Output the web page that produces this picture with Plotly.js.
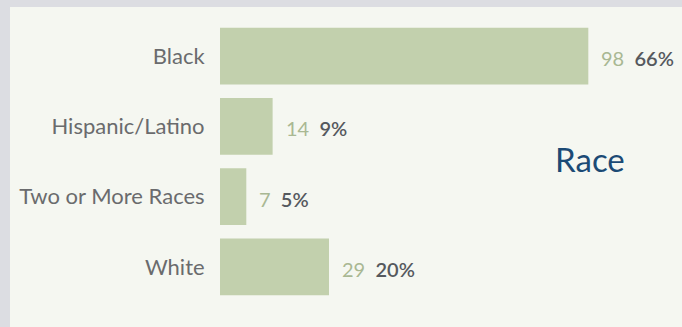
<!DOCTYPE html>
<html><head><meta charset="utf-8">
<script src="https://cdn.plot.ly/plotly-3.0.1.min.js"></script>
<style>
html,body{margin:0;padding:0;background:#dcdde2;width:682px;height:327px;overflow:hidden}
#chart{position:absolute;left:10px;top:7px;width:672px;height:320px}
</style></head><body>
<div id="chart"></div>
<script>
const categories = ["Black", "Hispanic/Latino", "Two or More Races", "White"];
const counts = [98, 14, 7, 29];
const percents = ["66%", "9%", "5%", "20%"];
const chartTitle = "Race";

const countColor = "#a9b893";
const pctColor = "#55595e";

const annotations = categories.map((c, i) => ({
  x: counts[i], y: c, xref: "x", yref: "y",
  xanchor: "left", yanchor: "middle", xshift: 11, yshift: -2, showarrow: false,
  text: "<span style='color:" + countColor + "'>" + counts[i] + "</span>&nbsp;&nbsp;<span style='color:" + pctColor + ";font-weight:600'>" + percents[i] + "</span>",
  font: {family: "Lato", size: 20, color: pctColor}
}));

Plotly.newPlot("chart", [{
  type: "bar", orientation: "h",
  x: counts, y: categories,
  marker: {color: "#c2d0ad"},
  hoverinfo: "none"
}], {
  width: 672, height: 320,
  margin: {l: 210, r: 11, t: 14, b: 25},
  paper_bgcolor: "#f5f7f1", plot_bgcolor: "#f5f7f1",
  bargap: 0.19,
  showlegend: false,
  title: {text: chartTitle, x: 0.863, xanchor: "center", y: 0.522, yanchor: "middle", yref: "container",
          font: {family: "Lato", size: 33, color: "#1b4a75"}},
  xaxis: {range: [0, 120], visible: false, fixedrange: true},
  yaxis: {categoryorder: "array", categoryarray: categories, range: [3.5, -0.5],
          showgrid: false, zeroline: false, showline: false,
          ticks: "outside", ticklen: 10, tickcolor: "rgba(0,0,0,0)",
          tickfont: {family: "Lato", size: 22, color: "#6a6b6d"}},
  annotations: annotations
}, {displayModeBar: false, staticPlot: true});
</script>
</body></html>
